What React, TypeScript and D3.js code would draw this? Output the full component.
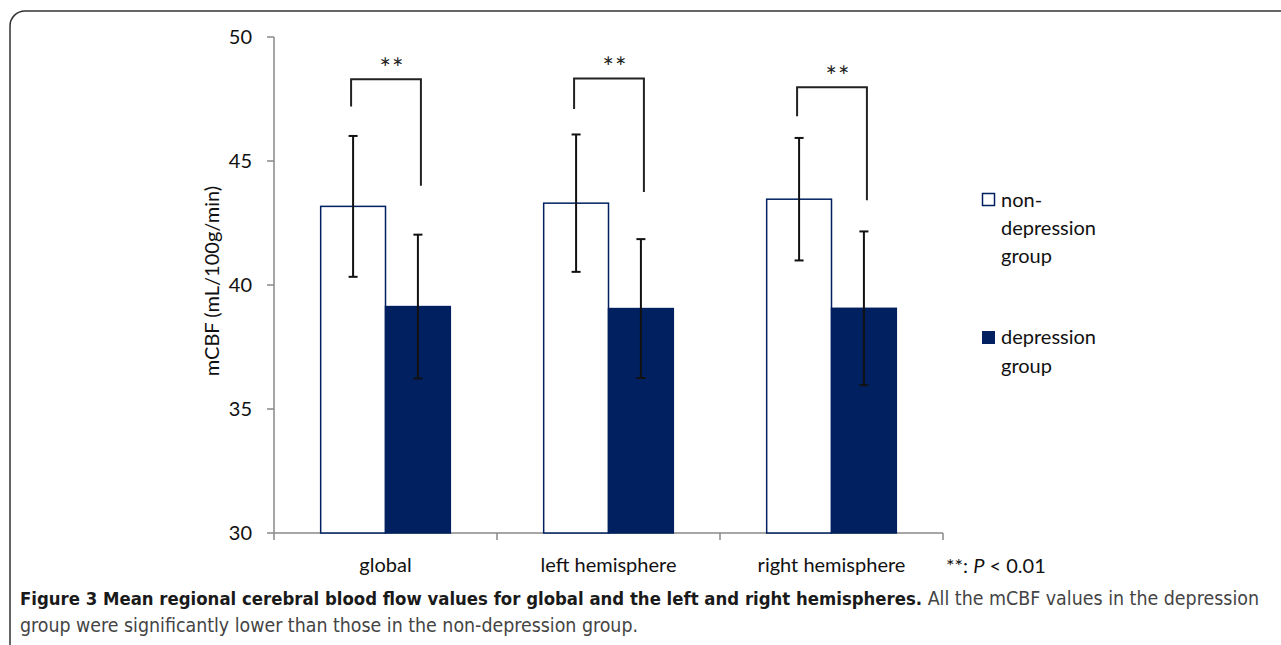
import * as d3 from 'd3';

const categories = ["global", "left hemisphere", "right hemisphere"];
const groups = ["non-depression group", "depression group"];
const nonDepMean = [43.17, 43.3, 43.46];
const nonDepSD = [2.84, 2.77, 2.47];
const depMean = [39.13, 39.05, 39.06];
const depSD = [2.9, 2.8, 3.1];
// significance brackets: top, left leg end, right leg end (mCBF units)
const bracketTop = [48.3, 48.33, 47.97];
const bracketLeft = [47.2, 47.1, 46.8];
const bracketRight = [44.0, 43.75, 43.42];
const yTicks = [30, 35, 40, 45, 50];

const navy = "#002060";
const font = "Lato, 'Open Sans', sans-serif";

const App = () => {
    const x = d3.scaleBand().domain(categories).range([274, 943]).padding(0);
    const xInner = d3.scaleBand().domain(groups).range([0, x.bandwidth()]).paddingInner(0).paddingOuter(0.72);
    const y = d3.scaleLinear().domain([30, 50]).range([533, 37]);

    const series = [
        { key: groups[0], mean: nonDepMean, sd: nonDepSD, fill: "#ffffff" },
        { key: groups[1], mean: depMean, sd: depSD, fill: navy },
    ];
    const bw = xInner.bandwidth();
    const center = (c: string, g: string) => (x(c) as number) + (xInner(g) as number) + bw / 2;

    return (
        <svg width="1281" height="645" style={{ position: "absolute", left: 0, top: 0 }} fontFamily={font}>
            <rect x="0" y="0" width="1281" height="645" fill="#fff" />
            <rect x="10" y="11" width="1300" height="660" rx="15" fill="none" stroke="#333" strokeWidth="1.5" />

            {/* y axis */}
            <line x1="274" x2="274" y1={y(50)} y2={y(30)} stroke="#888" strokeWidth="1.5" />
            {yTicks.map(t => (
                <g key={t} transform={`translate(0,${y(t)})`}>
                    <line x1="267" x2="274" stroke="#888" strokeWidth="1.5" />
                    <text x="252" dy="0.36em" textAnchor="end" fontSize="20" fill="#111">{t}</text>
                </g>
            ))}
            <text transform={`translate(219,281) rotate(-90)`} textAnchor="middle" fontSize="20" fill="#111">mCBF (mL/100g/min)</text>

            {/* x axis */}
            <line x1="274" x2="943" y1={y(30)} y2={y(30)} stroke="#888" strokeWidth="1.5" />
            {[...categories.map(c => x(c) as number), 943].map((v, i) => (
                <line key={i} x1={v} x2={v} y1={y(30)} y2={y(30) + 7} stroke="#888" strokeWidth="1.5" />
            ))}
            {categories.map(c => (
                <text key={c} x={(x(c) as number) + x.bandwidth() / 2} y="572" textAnchor="middle" fontSize="20" fill="#111">{c}</text>
            ))}
            <text x="946" y="573" fontSize="20" fill="#111">**: <tspan fontStyle="italic">P</tspan> &lt; 0.01</text>

            {/* bars */}
            {series.map(s => categories.map((c, i) => (
                <rect key={s.key + c}
                    x={(x(c) as number) + (xInner(s.key) as number)}
                    y={y(s.mean[i])}
                    width={bw}
                    height={y(30) - y(s.mean[i])}
                    fill={s.fill} stroke={navy} strokeWidth="1.5" />
            )))}

            {/* error bars */}
            {series.map(s => categories.map((c, i) => {
                const cx = center(c, s.key);
                const hi = y(s.mean[i] + s.sd[i]);
                const lo = y(s.mean[i] - s.sd[i]);
                return (
                    <g key={"e" + s.key + c} stroke="#111" strokeWidth="2">
                        <line x1={cx} x2={cx} y1={hi} y2={lo} />
                        <line x1={cx - 4.5} x2={cx + 4.5} y1={hi} y2={hi} />
                        <line x1={cx - 4.5} x2={cx + 4.5} y1={lo} y2={lo} />
                    </g>
                );
            }))}

            {/* significance brackets */}
            {categories.map((c, i) => {
                const lx = center(c, groups[0]) - 2;
                const rx = center(c, groups[1]) + 3;
                return (
                    <g key={"b" + c}>
                        <path d={`M${lx},${y(bracketLeft[i])}V${y(bracketTop[i])}H${rx}V${y(bracketRight[i])}`}
                            fill="none" stroke="#222" strokeWidth="2" />
                        <text x={(lx + rx) / 2 + 6} y={y(bracketTop[i]) - 1} textAnchor="middle" fontSize="27" letterSpacing="1" fill="#222">**</text>
                    </g>
                );
            })}

            {/* legend */}
            <rect x="982.5" y="193.5" width="12" height="12" fill="#fff" stroke={navy} strokeWidth="1.5" />
            <text x="1001" fontSize="20" fill="#111">
                <tspan x="1001" y="207">non-</tspan>
                <tspan x="1001" y="235">depression</tspan>
                <tspan x="1001" y="263">group</tspan>
            </text>
            <rect x="982" y="331" width="13" height="13" fill={navy} />
            <text x="1001" fontSize="20" fill="#111">
                <tspan x="1001" y="344">depression</tspan>
                <tspan x="1001" y="373">group</tspan>
            </text>

            {/* caption */}
            <g fontFamily="'Liberation Sans Narrow', 'DejaVu Sans Condensed', 'Open Sans', sans-serif" fontSize="19">
                <text x="20" y="605" fill="#444" textLength="1239" lengthAdjust="spacingAndGlyphs">
                    <tspan fontWeight="bold" fontSize="18" fill="#1a1a1a">Figure 3 Mean regional cerebral blood flow values for global and the left and right hemispheres.</tspan> All the mCBF values in the depression
                </text>
                <text x="20" y="632" fill="#444" textLength="618" lengthAdjust="spacingAndGlyphs">group were significantly lower than those in the non-depression group.</text>
            </g>
        </svg>
    );
};

export default App;
